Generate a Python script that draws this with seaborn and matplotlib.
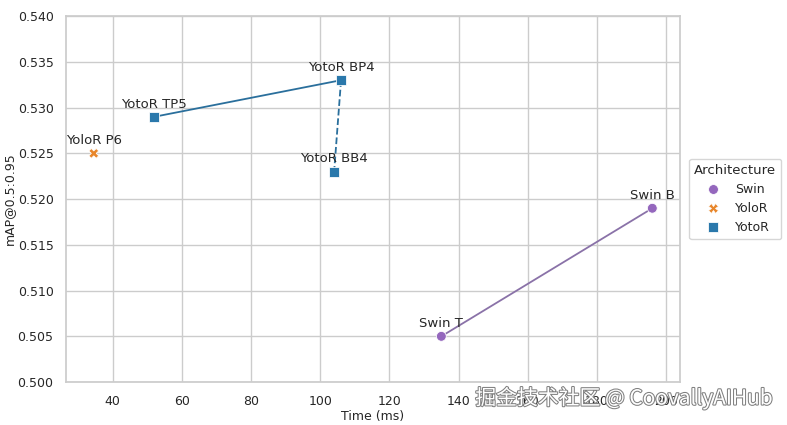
import matplotlib
matplotlib.use("Agg")
import matplotlib.pyplot as plt
import matplotlib.patheffects as pe
import seaborn as sns
import pandas as pd

names = ["Swin T", "Swin B", "YoloR P6", "YotoR TP5", "YotoR BP4", "YotoR BB4"]
archs = ["Swin", "Swin", "YoloR", "YotoR", "YotoR", "YotoR"]
times = [135, 196, 34.5, 52, 106, 104]
maps = [0.505, 0.519, 0.525, 0.529, 0.533, 0.523]

df = pd.DataFrame({"Model": names, "Architecture": archs, "Time (ms)": times, "mAP@0.5:0.95": maps})

sns.set_theme(style="whitegrid")
plt.rcParams['font.family'] = ['DejaVu Sans', 'Noto Sans CJK SC']

palette = {"Swin": "#9467bd", "YoloR": "#e8862a", "YotoR": "#2a78ab"}
markers = {"Swin": "o", "YoloR": "X", "YotoR": "s"}

fig = plt.figure(figsize=(7.87, 4.25), dpi=100)
ax = fig.add_axes([0.084, 0.101, 0.78, 0.861])

# connecting lines
d = df.set_index("Model")
ax.plot(d.loc[["Swin T", "Swin B"], "Time (ms)"], d.loc[["Swin T", "Swin B"], "mAP@0.5:0.95"],
        color="#8a72a8", lw=1.3, zorder=1)
ax.plot(d.loc[["YotoR TP5", "YotoR BP4"], "Time (ms)"], d.loc[["YotoR TP5", "YotoR BP4"], "mAP@0.5:0.95"],
        color="#2a6f9c", lw=1.3, zorder=1)
ax.plot(d.loc[["YotoR BP4", "YotoR BB4"], "Time (ms)"], d.loc[["YotoR BP4", "YotoR BB4"], "mAP@0.5:0.95"],
        color="#2a6f9c", lw=1.3, ls="--", zorder=1)

sns.scatterplot(data=df, x="Time (ms)", y="mAP@0.5:0.95", hue="Architecture", style="Architecture",
                palette=palette, markers=markers, s=50, ax=ax, zorder=3,
                hue_order=["Swin", "YoloR", "YotoR"], style_order=["Swin", "YoloR", "YotoR"])

for n, x, y in zip(names, times, maps):
    ax.annotate(n, (x, y), xytext=(0, 4.5), textcoords="offset points", ha="center", va="bottom",
                fontsize=9.5, color="#262626")

ax.set_xlim(26.5, 204)
ax.set_ylim(0.5, 0.54)
ax.set_yticks([0.500, 0.505, 0.510, 0.515, 0.520, 0.525, 0.530, 0.535, 0.540])
ax.set_yticklabels([f"{v:.3f}" for v in ax.get_yticks()])
ax.tick_params(labelsize=9, pad=3)
ax.set_xlabel("Time (ms)", fontsize=9, labelpad=2)
ax.set_ylabel("mAP@0.5:0.95", fontsize=9, labelpad=1)

leg = ax.legend(title="Architecture", loc="center left", bbox_to_anchor=(1.005, 0.5),
                fontsize=9, title_fontsize=9.5)

fig.text(0.982, 0.063, "掘金技术社区 @ CoovallyAIHub", ha="right", va="center", fontsize=15,
         color="white", family=['Noto Sans CJK SC', 'DejaVu Sans'],
         path_effects=[pe.withStroke(linewidth=1.5, foreground="#808080")])

fig.savefig("out.png", dpi=100)
